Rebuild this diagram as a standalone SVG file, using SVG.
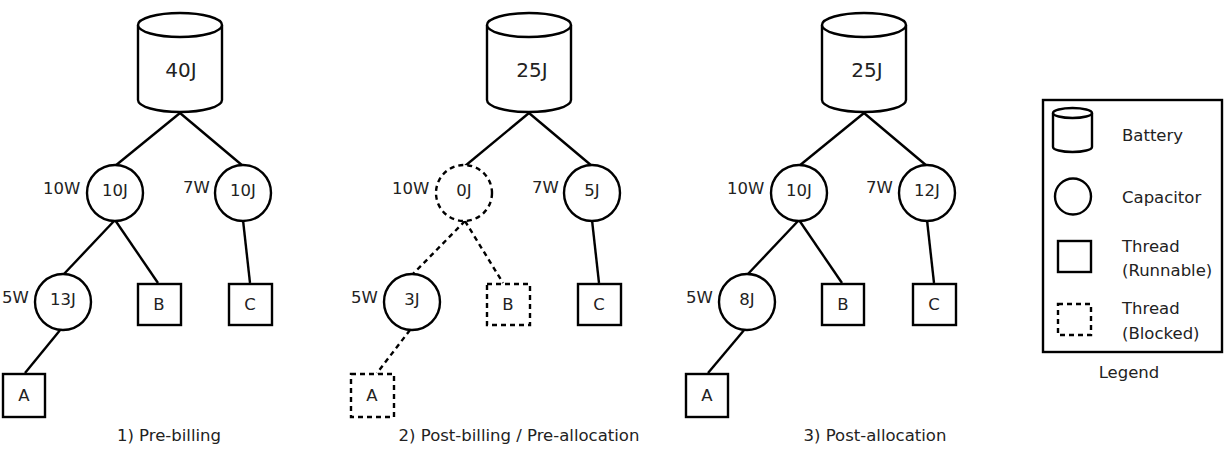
<svg xmlns="http://www.w3.org/2000/svg" width="1231" height="452" viewBox="0 0 1231 452">
<style>
.s{fill:#fff;stroke:#000;stroke-width:2.4}
.d{fill:#fff;stroke:#000;stroke-width:2.4;stroke-dasharray:5 4}
.l{fill:none;stroke:#000;stroke-width:2.4}
.ld{fill:none;stroke:#000;stroke-width:2.4;stroke-dasharray:5 4}
text{font-family:"DejaVu Sans",sans-serif;font-size:16.5px;fill:#222}
.m{text-anchor:middle}
.b{font-size:20px}
</style>
<rect width="1231" height="452" fill="#fff"/>
<g id="connectors">
<line class="l" x1="180" y1="113" x2="115" y2="166"/>
<line class="l" x1="180" y1="113" x2="243" y2="166"/>
<line class="l" x1="115" y1="220" x2="63" y2="275"/>
<line class="l" x1="115" y1="220" x2="158" y2="283"/>
<line class="l" x1="243" y1="220" x2="250" y2="283"/>
<line class="l" x1="61" y1="329" x2="25" y2="373"/>
<line class="l" x1="529" y1="113" x2="465" y2="166"/>
<line class="l" x1="529" y1="113" x2="592" y2="166"/>
<line class="ld" x1="465" y1="221" x2="412" y2="275"/>
<line class="ld" x1="465" y1="221" x2="503" y2="283"/>
<line class="l" x1="592" y1="220" x2="599" y2="283"/>
<line class="ld" x1="410" y1="330" x2="377" y2="373"/>
<line class="l" x1="864" y1="113" x2="799" y2="166"/>
<line class="l" x1="864" y1="113" x2="927" y2="166"/>
<line class="l" x1="799" y1="220" x2="747" y2="275"/>
<line class="l" x1="799" y1="220" x2="842" y2="283"/>
<line class="l" x1="927" y1="220" x2="934" y2="283"/>
<line class="l" x1="745" y1="329" x2="708" y2="373"/>
</g>
<g id="p1-battery"><path class="s" d="M138,25 L138,100 A42,12 0 0 0 222,100 L222,25"/><ellipse class="s" cx="180" cy="25" rx="42" ry="12"/><text class="m b" x="181" y="77">40J</text></g>
<g id="p1-cap1"><circle class="s" cx="115" cy="193" r="28"/><text class="m" x="115" y="196">10J</text><text x="43" y="194">10W</text></g>
<g id="p1-cap2"><circle class="s" cx="243" cy="193" r="28"/><text class="m" x="243" y="196">10J</text><text x="183" y="193">7W</text></g>
<g id="p1-cap3"><circle class="s" cx="63" cy="302" r="28"/><text class="m" x="63" y="305">13J</text><text x="2" y="303">5W</text></g>
<g id="p1-A"><rect class="s" x="3" y="374" width="42" height="43"/><text class="m" x="24" y="401">A</text></g>
<g id="p1-B"><rect class="s" x="138" y="284" width="43" height="41"/><text class="m" x="159" y="310">B</text></g>
<g id="p1-C"><rect class="s" x="229" y="284" width="43" height="41"/><text class="m" x="250" y="310">C</text></g>
<text id="cap1" class="m" x="169" y="441">1) Pre-billing</text>

<g id="p2-battery"><path class="s" d="M487,25 L487,100 A42,12 0 0 0 571,100 L571,25"/><ellipse class="s" cx="529" cy="25" rx="42" ry="12"/><text class="m b" x="532" y="77">25J</text></g>
<g id="p2-cap1"><circle class="d" cx="464" cy="193" r="28"/><text class="m" x="464" y="196">0J</text><text x="392" y="194">10W</text></g>
<g id="p2-cap2"><circle class="s" cx="592" cy="193" r="28"/><text class="m" x="592" y="196">5J</text><text x="532" y="193">7W</text></g>
<g id="p2-cap3"><circle class="s" cx="412" cy="302" r="28"/><text class="m" x="412" y="305">3J</text><text x="351" y="303">5W</text></g>
<g id="p2-A"><rect class="d" x="351" y="374" width="43" height="43"/><text class="m" x="372" y="401">A</text></g>
<g id="p2-B"><rect class="d" x="487" y="284" width="43" height="41"/><text class="m" x="508" y="310">B</text></g>
<g id="p2-C"><rect class="s" x="578" y="284" width="43" height="41"/><text class="m" x="599" y="310">C</text></g>
<text id="cap2" class="m" x="519" y="441">2) Post-billing / Pre-allocation</text>

<g id="p3-battery"><path class="s" d="M822,25 L822,100 A42,12 0 0 0 906,100 L906,25"/><ellipse class="s" cx="864" cy="25" rx="42" ry="12"/><text class="m b" x="867" y="77">25J</text></g>
<g id="p3-cap1"><circle class="s" cx="799" cy="193" r="28"/><text class="m" x="799" y="196">10J</text><text x="727" y="194">10W</text></g>
<g id="p3-cap2"><circle class="s" cx="927" cy="193" r="28"/><text class="m" x="927" y="196">12J</text><text x="866" y="193">7W</text></g>
<g id="p3-cap3"><circle class="s" cx="747" cy="302" r="28"/><text class="m" x="747" y="305">8J</text><text x="686" y="303">5W</text></g>
<g id="p3-A"><rect class="s" x="686" y="374" width="42" height="43"/><text class="m" x="707" y="401">A</text></g>
<g id="p3-B"><rect class="s" x="822" y="284" width="42" height="41"/><text class="m" x="843" y="310">B</text></g>
<g id="p3-C"><rect class="s" x="913" y="284" width="43" height="41"/><text class="m" x="934" y="310">C</text></g>
<text id="cap3" class="m" x="875" y="441">3) Post-allocation</text>

<g id="legend">
<rect class="s" x="1043" y="100" width="179" height="252"/>
<path class="s" d="M1053,113 L1053,147 A19.5,5 0 0 0 1092,147 L1092,113"/><ellipse class="s" cx="1072.5" cy="113" rx="19.5" ry="5"/>
<text x="1122" y="141">Battery</text>
<circle class="s" cx="1073" cy="196.5" r="18"/>
<text x="1122" y="203">Capacitor</text>
<rect class="s" x="1058" y="241" width="33" height="31"/>
<text x="1122" y="252">Thread</text><text x="1122" y="276">(Runnable)</text>
<rect class="d" x="1058" y="304" width="33" height="31"/>
<text x="1122" y="314">Thread</text><text x="1122" y="339">(Blocked)</text>
<text class="m" x="1129" y="378">Legend</text>
</g>
</svg>
